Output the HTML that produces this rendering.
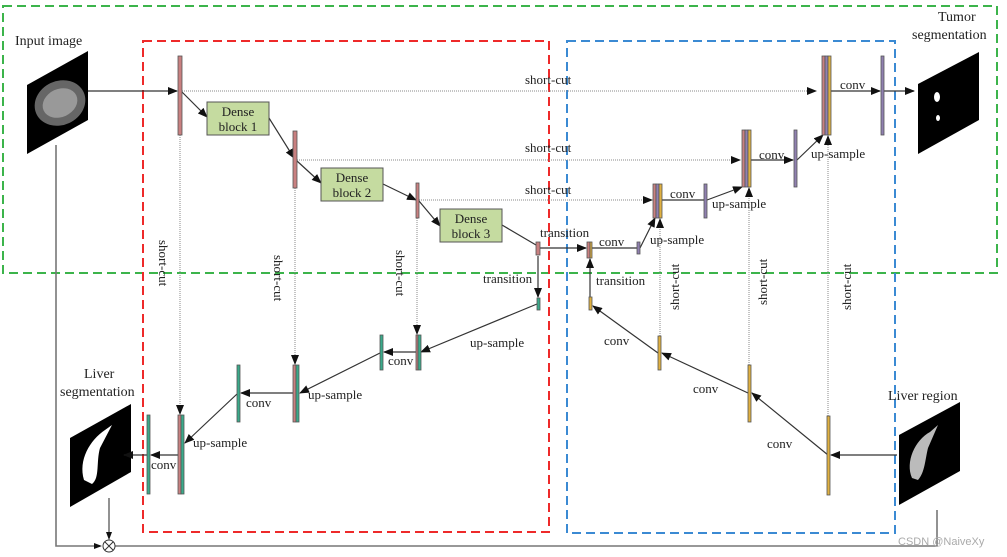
<!DOCTYPE html>
<html><head><meta charset="utf-8"><style>
html,body{margin:0;padding:0;background:#fff}
svg{display:block}
text{font-family:"Liberation Serif",serif;font-size:13px;fill:#222}
</style></head><body>
<svg width="1007" height="557" viewBox="0 0 1007 557" xmlns="http://www.w3.org/2000/svg">
<defs>
<marker id="a" markerWidth="10" markerHeight="8" refX="9" refY="4" orient="auto" markerUnits="userSpaceOnUse"><path d="M0,0 L10,4 L0,8 z" fill="#111"/></marker>
</defs>
<!-- dashed boxes -->
<rect x="3" y="6" width="994" height="267" fill="none" stroke="#3cb44b" stroke-width="2" stroke-dasharray="9,5"/>
<rect x="143" y="41" width="406" height="491" fill="none" stroke="#ee2a2a" stroke-width="2" stroke-dasharray="9,5"/>
<rect x="567" y="41" width="328" height="492" fill="none" stroke="#3b8ad3" stroke-width="2" stroke-dasharray="9,5"/>

<!-- images -->
<polygon points="27,85 88,51 88,120 27,154" fill="#000"/>
<ellipse cx="60" cy="103" rx="26" ry="22" fill="#666" transform="rotate(-25 60 103)"/>
<ellipse cx="60" cy="103" rx="18" ry="14" fill="#999" transform="rotate(-25 60 103)"/>
<polygon points="918,84 979,52 979,120 918,154" fill="#000"/>
<ellipse cx="937" cy="97" rx="3" ry="5" fill="#fff"/><ellipse cx="938" cy="118" rx="2" ry="3" fill="#fff"/>
<polygon points="70,438 131,404 131,472 70,507" fill="#000"/>
<path d="M84,480 C78,460 90,440 105,430 L112,425 L100,448 C96,462 100,478 92,484 Z" fill="#fff"/>
<polygon points="899,435 960,402 960,471 899,505" fill="#000"/>
<path d="M912,478 C905,462 915,440 930,432 L938,425 L928,448 C925,460 925,472 918,480 Z" fill="#bbb"/>

<g font-size="14">
<text x="15" y="45" style="font-size:14px">Input image</text>
<text x="938" y="21" style="font-size:14px">Tumor</text>
<text x="912" y="39" style="font-size:14px">segmentation</text>
<text x="84" y="378" style="font-size:14px">Liver</text>
<text x="60" y="396" style="font-size:14px">segmentation</text>
<text x="888" y="400" style="font-size:14px">Liver region</text>
</g>

<!-- gray loop lines -->
<g stroke="#777" stroke-width="1.6" fill="none">
<polyline points="56,145 56,546 100,546"/>
<polyline points="115,546 937,546 937,510"/>
<line x1="109" y1="498" x2="109" y2="536"/>
</g>
<circle cx="109" cy="546" r="6" fill="#fff" stroke="#333"/>
<path d="M105,542 L113,550 M113,542 L105,550" stroke="#333"/>
<path d="M94,543 L102,546 L94,549z" fill="#111"/>
<path d="M106,532 L109,540 L112,532z" fill="#111"/>

<!-- dotted shortcuts -->
<g stroke="#888" stroke-width="1" stroke-dasharray="1,1" fill="none">
<line x1="182" y1="91" x2="815" y2="91"/>
<line x1="297" y1="160" x2="738" y2="160"/>
<line x1="419" y1="200" x2="651" y2="200"/>
<line x1="180" y1="135" x2="180" y2="413"/>
<line x1="295" y1="188" x2="295" y2="363"/>
<line x1="417" y1="218" x2="417" y2="333"/>
<line x1="660" y1="336" x2="660" y2="220"/>
<line x1="749" y1="365" x2="749" y2="189"/>
<line x1="828" y1="416" x2="828" y2="137"/>
</g>
<g fill="#111">
<path d="M807,87 L817,91 L807,95z"/><path d="M731,156 L741,160 L731,164z"/><path d="M643,196 L653,200 L643,204z"/>
<path d="M176,405 L180,415 L184,405z"/><path d="M291,355 L295,365 L299,355z"/><path d="M413,325 L417,335 L421,325z"/>
<path d="M656,228 L660,218 L664,228z"/><path d="M745,197 L749,187 L753,197z"/><path d="M824,145 L828,135 L832,145z"/>
</g>

<!-- solid arrows -->
<g stroke="#333" stroke-width="1.2" fill="none" marker-end="url(#a)">
<line x1="88" y1="91" x2="177" y2="91"/>
<line x1="182" y1="92" x2="207" y2="117"/>
<line x1="269" y1="118" x2="294" y2="158"/>
<line x1="297" y1="161" x2="321" y2="183"/>
<line x1="383" y1="184" x2="416" y2="200"/>
<line x1="419" y1="201" x2="440" y2="226"/>
<line x1="540" y1="248" x2="586" y2="248"/>
<line x1="640" y1="248" x2="655" y2="218"/>
<line x1="707" y1="200" x2="742" y2="187"/>
<line x1="797" y1="160" x2="823" y2="135"/>
<line x1="831" y1="91" x2="880" y2="91"/>
<line x1="884" y1="91" x2="914" y2="91"/>
<line x1="751" y1="160" x2="793" y2="160"/>
<line x1="538" y1="256" x2="538" y2="297"/>
<line x1="537" y1="304" x2="421" y2="352"/>
<line x1="416" y1="352" x2="384" y2="352"/>
<line x1="380" y1="353" x2="300" y2="393"/>
<line x1="293" y1="393" x2="241" y2="393"/>
<line x1="237" y1="394" x2="185" y2="443"/>
<line x1="178" y1="455" x2="151" y2="455"/>
<line x1="147" y1="455" x2="124" y2="455"/>
<line x1="897" y1="455" x2="831" y2="455"/>
<line x1="828" y1="455" x2="752" y2="393"/>
<line x1="748" y1="393" x2="662" y2="353"/>
<line x1="658" y1="353" x2="593" y2="306"/>
<line x1="590" y1="297" x2="590" y2="259"/>
</g>
<g stroke="#333" stroke-width="1.2">
<line x1="502" y1="225" x2="536" y2="245"/>
<line x1="592" y1="248" x2="637" y2="248"/>
<line x1="662" y1="200" x2="704" y2="200"/>
</g>

<!-- dense blocks -->
<g fill="#c5dba0" stroke="#555">
<rect x="207" y="102" width="62" height="33"/><rect x="321" y="168" width="62" height="33"/><rect x="440" y="209" width="62" height="33"/>
</g>
<g style="font-size:13px" text-anchor="middle">
<text x="238" y="116">Dense</text><text x="238" y="131">block 1</text>
<text x="352" y="182">Dense</text><text x="352" y="197">block 2</text>
<text x="471" y="223">Dense</text><text x="471" y="238">block 3</text>
</g>

<!-- bars -->
<g stroke="#555" stroke-width="0.8">
<rect x="178" y="56" width="4" height="79" fill="#c98080"/>
<rect x="293" y="131" width="4" height="57" fill="#c98080"/>
<rect x="416" y="183" width="3" height="35" fill="#c98080"/>
<rect x="536" y="242" width="4" height="13" fill="#c98080"/>
<rect x="587" y="242" width="3" height="16" fill="#c98080"/><rect x="590" y="242" width="2" height="16" fill="#e0b040"/>
<rect x="637" y="242" width="3" height="12" fill="#9080b0"/>
<rect x="653" y="184" width="3" height="34" fill="#c98080"/><rect x="656" y="184" width="3" height="34" fill="#9080b0"/><rect x="659" y="184" width="3" height="34" fill="#e0b040"/>
<rect x="704" y="184" width="3" height="34" fill="#9080b0"/>
<rect x="742" y="130" width="3" height="57" fill="#c98080"/><rect x="745" y="130" width="3" height="57" fill="#9080b0"/><rect x="748" y="130" width="3" height="57" fill="#e0b040"/>
<rect x="794" y="130" width="3" height="57" fill="#9080b0"/>
<rect x="822" y="56" width="3" height="79" fill="#c98080"/><rect x="825" y="56" width="3" height="79" fill="#9080b0"/><rect x="828" y="56" width="3" height="79" fill="#e0b040"/>
<rect x="881" y="56" width="3" height="79" fill="#9080b0"/>
<rect x="537" y="298" width="3" height="12" fill="#3aaa8a"/>
<rect x="416" y="335" width="2" height="35" fill="#c98080"/><rect x="418" y="335" width="3" height="35" fill="#3aaa8a"/>
<rect x="380" y="335" width="3" height="35" fill="#3aaa8a"/>
<rect x="293" y="365" width="3" height="57" fill="#c98080"/><rect x="296" y="365" width="3" height="57" fill="#3aaa8a"/>
<rect x="237" y="365" width="3" height="57" fill="#3aaa8a"/>
<rect x="178" y="415" width="3" height="79" fill="#c98080"/><rect x="181" y="415" width="3" height="79" fill="#3aaa8a"/>
<rect x="147" y="415" width="3" height="79" fill="#3aaa8a"/>
<rect x="827" y="416" width="3" height="79" fill="#e0b040"/>
<rect x="748" y="365" width="3" height="57" fill="#e0b040"/>
<rect x="658" y="336" width="3" height="34" fill="#e0b040"/>
<rect x="589" y="297" width="3" height="13" fill="#e0b040"/>
</g>

<!-- labels -->
<g style="font-size:13px">
<text x="525" y="84">short-cut</text>
<text x="525" y="152">short-cut</text>
<text x="525" y="194">short-cut</text>
<text x="840" y="89">conv</text>
<text x="759" y="159">conv</text>
<text x="670" y="198">conv</text>
<text x="599" y="246">conv</text>
<text x="540" y="237">transition</text>
<text x="811" y="158">up-sample</text>
<text x="712" y="208">up-sample</text>
<text x="650" y="244">up-sample</text>
<text x="483" y="283">transition</text>
<text x="596" y="285">transition</text>
<text x="470" y="347">up-sample</text>
<text x="388" y="365">conv</text>
<text x="308" y="399">up-sample</text>
<text x="246" y="407">conv</text>
<text x="193" y="447">up-sample</text>
<text x="151" y="469">conv</text>
<text x="767" y="448">conv</text>
<text x="693" y="393">conv</text>
<text x="604" y="345">conv</text>
<text transform="translate(159,240) rotate(90)">short-cut</text>
<text transform="translate(274,255) rotate(90)">short-cut</text>
<text transform="translate(396,250) rotate(90)">short-cut</text>
<text transform="translate(679,310) rotate(-90)">short-cut</text>
<text transform="translate(767,305) rotate(-90)">short-cut</text>
<text transform="translate(851,310) rotate(-90)">short-cut</text>
</g>
<text x="898" y="545" style="font-family:'Liberation Sans',sans-serif;font-size:11px;fill:#aaa">CSDN @NaiveXy</text>
</svg>
</body></html>
